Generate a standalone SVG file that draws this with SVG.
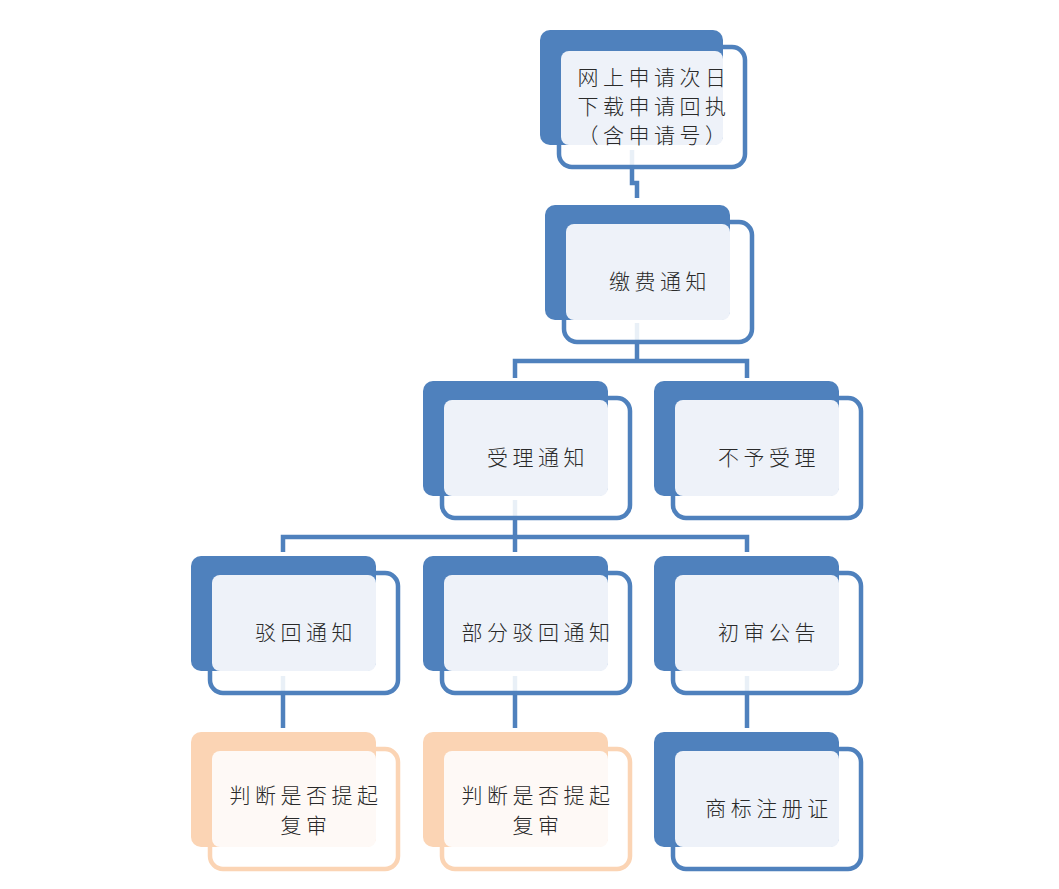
<svg xmlns="http://www.w3.org/2000/svg" width="1059" height="889" viewBox="0 0 1059 889">
<style>
.conn{fill:none;stroke:#4F81BD;stroke-width:4.5}
.fb{fill:#fff;fill-opacity:0.88;stroke:#4F81BD;stroke-width:4.5}
.bb{fill:#4F81BD}
.lb{fill:#EEF2F9}
.fo{fill:#fff;fill-opacity:0.88;stroke:#FBD4B4;stroke-width:4.5}
.bo{fill:#FBD4B4}
.lo{fill:#FEF9F6}
text{font-family:"Noto Sans CJK SC","Noto Sans CJK JP",sans-serif;font-size:21px;fill:#2a2a2a;text-anchor:middle;letter-spacing:4.5px;font-weight:300}
</style>
<rect width="1059" height="889" fill="#fff"/>
<g id="connectors">
<path class="conn" d="M632,150 V183 H637 V198"/>
<path class="conn" d="M637,323 V361"/>
<path class="conn" d="M515,378 V361 H747 V378"/>
<path class="conn" d="M515,500 V537"/>
<path class="conn" d="M283,552 V537 H747 V552"/>
<path class="conn" d="M515,537 V552"/>
<path class="conn" d="M283,676 V728"/>
<path class="conn" d="M515,676 V728"/>
<path class="conn" d="M747,676 V728"/>
</g>
<g id="n1">
<rect class="fb" x="559" y="47" width="186" height="120" rx="13"/>
<rect class="bb" x="540" y="30" width="183" height="115" rx="10"/>
<rect class="lb" x="561" y="51" width="162" height="94" rx="8"/>
<text x="654" y="85">网上申请次日</text>
<text x="654" y="114">下载申请回执</text>
<text x="654" y="143">（含申请号）</text>
</g>
<g id="n2">
<rect class="fb" x="564" y="222" width="188" height="120" rx="13"/>
<rect class="bb" x="545" y="205" width="185" height="115" rx="10"/>
<rect class="lb" x="566" y="224" width="164" height="96" rx="8"/>
<text x="660" y="289">缴费通知</text>
</g>
<g id="n3">
<rect class="fb" x="442" y="398" width="188" height="120" rx="13"/>
<rect class="bb" x="423" y="381" width="185" height="115" rx="10"/>
<rect class="lb" x="444" y="400" width="164" height="96" rx="8"/>
<text x="538" y="465">受理通知</text>
</g>
<g id="n4">
<rect class="fb" x="673" y="398" width="188" height="120" rx="13"/>
<rect class="bb" x="654" y="381" width="185" height="115" rx="10"/>
<rect class="lb" x="675" y="400" width="164" height="96" rx="8"/>
<text x="769" y="465">不予受理</text>
</g>
<g id="n5">
<rect class="fb" x="210" y="573" width="188" height="120" rx="13"/>
<rect class="bb" x="191" y="556" width="185" height="115" rx="10"/>
<rect class="lb" x="212" y="575" width="164" height="96" rx="8"/>
<text x="306" y="640">驳回通知</text>
</g>
<g id="n6">
<rect class="fb" x="442" y="573" width="188" height="120" rx="13"/>
<rect class="bb" x="423" y="556" width="185" height="115" rx="10"/>
<rect class="lb" x="444" y="575" width="164" height="96" rx="8"/>
<text x="538" y="640">部分驳回通知</text>
</g>
<g id="n7">
<rect class="fb" x="673" y="573" width="188" height="120" rx="13"/>
<rect class="bb" x="654" y="556" width="185" height="115" rx="10"/>
<rect class="lb" x="675" y="575" width="164" height="96" rx="8"/>
<text x="769" y="640">初审公告</text>
</g>
<g id="n8">
<rect class="fo" x="210" y="749" width="188" height="120" rx="13"/>
<rect class="bo" x="191" y="732" width="185" height="115" rx="10"/>
<rect class="lo" x="212" y="751" width="164" height="96" rx="8"/>
<text x="306" y="803">判断是否提起</text>
<text x="306" y="833">复审</text>
</g>
<g id="n9">
<rect class="fo" x="442" y="749" width="188" height="120" rx="13"/>
<rect class="bo" x="423" y="732" width="185" height="115" rx="10"/>
<rect class="lo" x="444" y="751" width="164" height="96" rx="8"/>
<text x="538" y="803">判断是否提起</text>
<text x="538" y="833">复审</text>
</g>
<g id="n10">
<rect class="fb" x="673" y="749" width="188" height="120" rx="13"/>
<rect class="bb" x="654" y="732" width="185" height="115" rx="10"/>
<rect class="lb" x="675" y="751" width="164" height="96" rx="8"/>
<text x="769" y="816">商标注册证</text>
</g>
</svg>
